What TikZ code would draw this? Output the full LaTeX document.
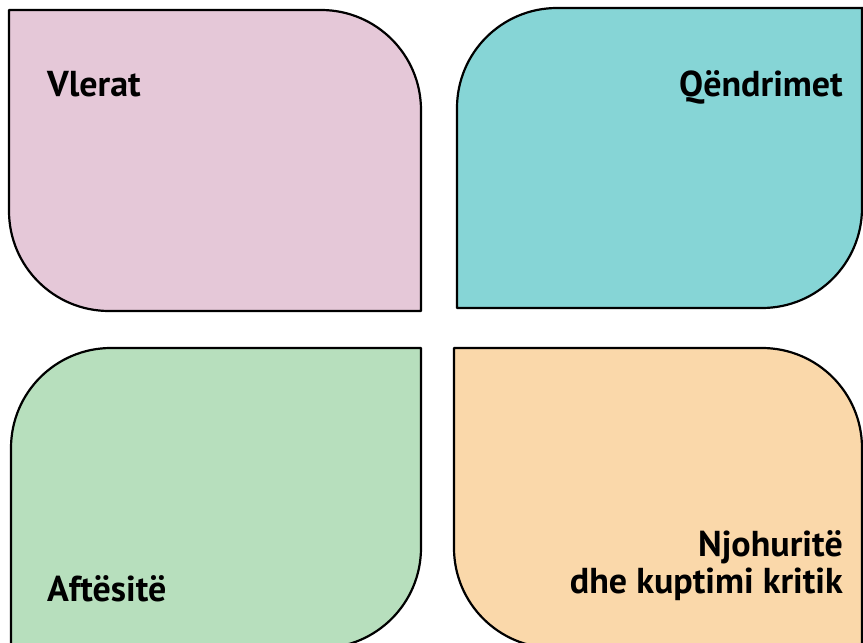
\documentclass[tikz,border=0pt]{standalone}
\usepackage{fontspec}
\setmainfont{PT Sans}
\definecolor{pinkf}{HTML}{E5C8D8}
\definecolor{tealf}{HTML}{86D5D6}
\definecolor{greenf}{HTML}{B7DFBD}
\definecolor{orangef}{HTML}{FAD8AA}
\begin{document}
\begin{tikzpicture}[x=1pt,y=1pt,
  panel/.style={draw=black,line width=2.2pt,line join=round},
  lbl/.style={inner sep=0pt,font=\fontsize{36}{37}\selectfont\bfseries}]
\useasboundingbox (0,0) rectangle (863,643);
\clip (0,0) rectangle (863,643);
% pink
\path[panel,fill=pinkf] (9,633) -- (321,633) arc[start angle=90,end angle=0,radius=100pt]
  -- (421,332) -- (109,332) arc[start angle=270,end angle=180,radius=100pt] -- cycle;
% teal
\path[panel,fill=tealf] (457,335) -- (457,535) arc[start angle=180,end angle=90,radius=100pt]
  -- (864,635) -- (862,635) -- (862,435) arc[start angle=0,end angle=-90,radius=100pt] -- cycle;
% green
\path[panel,fill=greenf] (11,-5) -- (11,195) arc[start angle=180,end angle=90,radius=100pt]
  -- (421,295) -- (421,95) arc[start angle=0,end angle=-90,radius=100pt] -- cycle;
% orange
\path[panel,fill=orangef] (454,295) -- (762,295) arc[start angle=90,end angle=0,radius=100pt]
  -- (862,-5) -- (554,-5) arc[start angle=270,end angle=180,radius=100pt] -- cycle;
\node[lbl,anchor=base west] (vlerat) at (47,546) {Vlerat};
\node[lbl,anchor=base east] (qendrimet) at (843,546) {Qëndrimet};
\node[lbl,anchor=base west] (aftesite) at (47,41) {Aftësitë};
\node[lbl,anchor=base east,align=right] (njohurite) at (843,49) {Njohuritë\\dhe kuptimi kritik};
\end{tikzpicture}
\end{document}
